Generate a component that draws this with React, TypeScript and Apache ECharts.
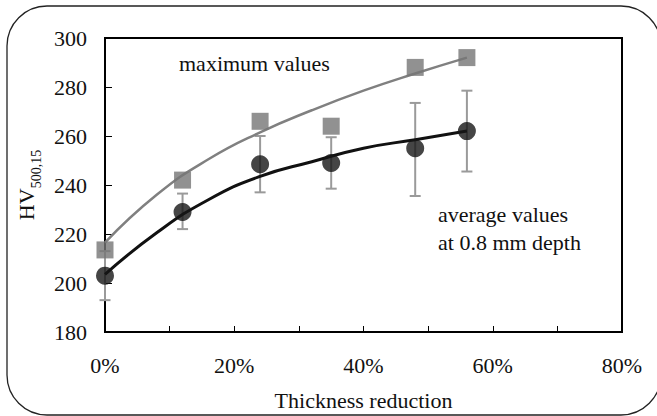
import React, { useEffect, useRef } from 'react';
import * as echarts from 'echarts';

// Measured points (thickness reduction in %)
const thicknessReduction = [0, 12, 24, 35, 48, 56];
const maximumValues = [213.5, 242, 266, 264, 288, 292];
const averageValues = [203, 229, 248.5, 249, 255, 262];
const averageLow = [193, 222, 237, 238.5, 235.5, 245.5];
const averageHigh = [213, 236.5, 260, 259.5, 273.5, 278.5];

// Trend curves
const trendX = [0, 8, 16, 24, 32, 40, 48, 56];
const maxTrendY = [216.5, 236, 250.5, 261.5, 270.5, 278.5, 285.5, 292];
const avgTrendY = [203.5, 220.5, 234, 243.5, 249.5, 255, 258.5, 262];

// Axes
const yMin = 180;
const yMax = 300;
const yStep = 20;
const xMin = 0;
const xMax = 80;
const xTickStep = 10;
const xLabelStep = 20;

const FONT = 'Liberation Serif';

export default function App() {
  const ref = useRef<HTMLDivElement>(null);

  useEffect(() => {
    document.body.style.margin = '0';
    if (!ref.current) return;
    const chart = echarts.init(ref.current, null, { renderer: 'svg' });

    const maxPts = thicknessReduction.map((x, i) => [x, maximumValues[i]]);
    const avgPts = thicknessReduction.map((x, i) => [x, averageValues[i]]);
    const errPts = thicknessReduction.map((x, i) => [x, averageLow[i], averageHigh[i]]);
    const maxTrend = trendX.map((x, i) => [x, maxTrendY[i]]);
    const avgTrend = trendX.map((x, i) => [x, avgTrendY[i]]);

    const textStyle = { fontFamily: FONT, fontSize: 22, fill: '#111', verticalAlign: 'middle', align: 'left' };

    chart.setOption({
      animation: false,
      backgroundColor: '#ffffff',
      textStyle: { fontFamily: FONT },
      grid: {
        left: 105,
        right: 35,
        top: 38,
        bottom: 84,
        show: true,
        borderColor: '#000',
        borderWidth: 2,
        backgroundColor: 'transparent',
      },
      xAxis: {
        type: 'value',
        min: xMin,
        max: xMax,
        interval: xTickStep,
        name: 'Thickness reduction',
        nameLocation: 'middle',
        nameGap: 57,
        nameTextStyle: { fontFamily: FONT, fontSize: 22, color: '#111' },
        axisLine: { show: true, onZero: false, lineStyle: { color: '#000', width: 2 } },
        axisTick: { show: true, inside: true, length: 6, lineStyle: { color: '#000', width: 1 } },
        splitLine: { show: false },
        axisLabel: {
          margin: 22,
          fontFamily: FONT,
          fontSize: 22,
          color: '#111',
          formatter: (v: number) => (Math.round(v) % xLabelStep === 0 ? `${Math.round(v)}%` : ''),
        },
      },
      yAxis: {
        type: 'value',
        min: yMin,
        max: yMax,
        interval: yStep,
        name: '{a|HV}{b|500,15}',
        nameLocation: 'middle',
        nameGap: 62,
        nameTextStyle: {
          fontFamily: FONT,
          color: '#111',
          rich: {
            a: { fontFamily: FONT, fontSize: 22, lineHeight: 28, verticalAlign: 'top', color: '#111' },
            b: { fontFamily: FONT, fontSize: 14, lineHeight: 16, verticalAlign: 'bottom', color: '#111' },
          },
        },
        axisLine: { show: true, onZero: false, lineStyle: { color: '#000', width: 2 } },
        axisTick: { show: true, inside: true, length: 7, lineStyle: { color: '#000', width: 1 } },
        splitLine: { show: false },
        axisLabel: { margin: 18, fontFamily: FONT, fontSize: 22, color: '#111' },
      },
      graphic: [
        {
          type: 'rect',
          z: -10,
          silent: true,
          shape: { x: 7, y: 6, width: 654, height: 409, r: 40 },
          style: { fill: 'none', stroke: '#222', lineWidth: 1.3 },
        },
        { type: 'text', x: 179, y: 63.5, style: { ...textStyle, text: 'maximum values' } },
        { type: 'text', x: 438, y: 214.5, style: { ...textStyle, text: 'average values' } },
        { type: 'text', x: 438, y: 242.5, style: { ...textStyle, text: 'at 0.8 mm depth' } },
      ],
      series: [
        {
          type: 'custom',
          name: 'error bars',
          z: 1,
          clip: false,
          data: errPts,
          encode: { x: 0, y: [1, 2] },
          renderItem: (_params: any, api: any) => {
            const x = api.value(0);
            const lo = api.coord([x, api.value(1)]);
            const hi = api.coord([x, api.value(2)]);
            const w = 5.5;
            const style = { stroke: '#9a9a9a', lineWidth: 2 };
            return {
              type: 'group',
              children: [
                { type: 'line', shape: { x1: lo[0], y1: lo[1], x2: hi[0], y2: hi[1] }, style },
                { type: 'line', shape: { x1: lo[0] - w, y1: lo[1], x2: lo[0] + w, y2: lo[1] }, style },
                { type: 'line', shape: { x1: hi[0] - w, y1: hi[1], x2: hi[0] + w, y2: hi[1] }, style },
              ],
            };
          },
        },
        {
          type: 'line',
          name: 'max trend',
          z: 2,
          data: maxTrend,
          smooth: true,
          showSymbol: false,
          symbol: 'none',
          lineStyle: { color: '#808080', width: 2.5 },
        },
        {
          type: 'line',
          name: 'avg trend',
          z: 2,
          data: avgTrend,
          smooth: true,
          showSymbol: false,
          symbol: 'none',
          lineStyle: { color: '#111', width: 3 },
        },
        {
          type: 'scatter',
          name: 'maximum values',
          z: 3,
          clip: false,
          data: maxPts,
          symbol: 'rect',
          symbolSize: 17,
          itemStyle: { color: '#767676' },
        },
        {
          type: 'scatter',
          name: 'average values',
          z: 4,
          clip: false,
          data: avgPts,
          symbol: 'circle',
          symbolSize: 18,
          itemStyle: { color: '#161616' },
        },
      ],
    });

    return () => chart.dispose();
  }, []);

  return <div ref={ref} style={{ width: 657, height: 416 }} />;
}
